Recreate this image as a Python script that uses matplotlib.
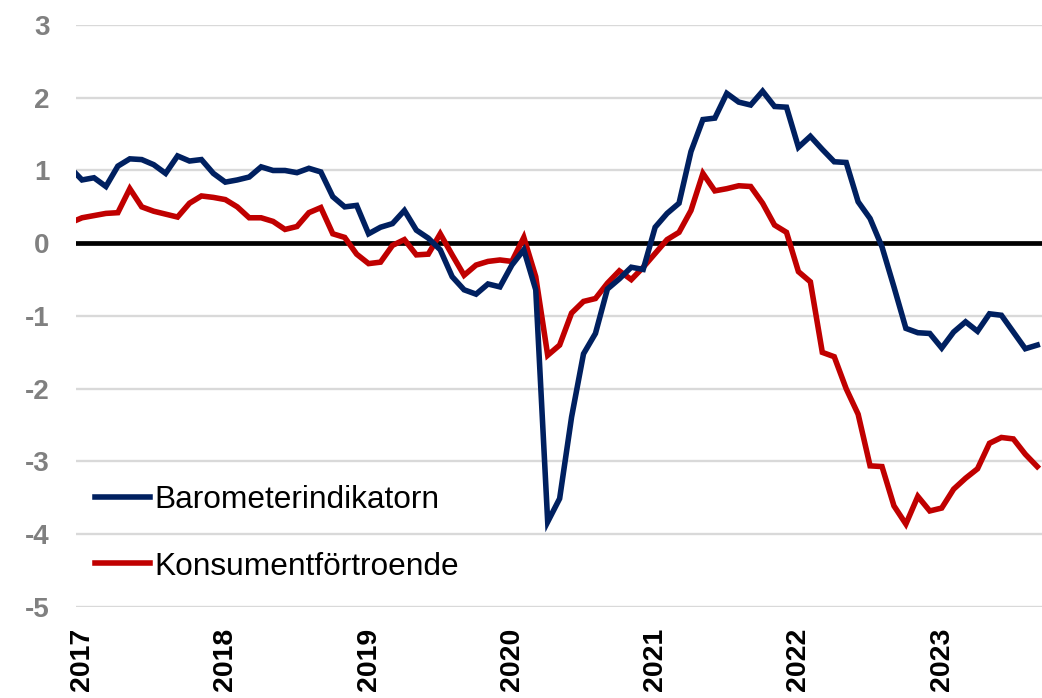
import numpy as np
import matplotlib
matplotlib.use("Agg")
import matplotlib.pyplot as plt

plt.rcParams['font.family'] = ['Liberation Sans', 'DejaVu Sans']

# monthly values, Dec 2016 .. Sep 2023 (first point is clipped at the left edge)
barometer = [1.04,
             0.87, 0.90, 0.78, 1.06, 1.16, 1.15, 1.08, 0.96, 1.20, 1.13, 1.15, 0.96,
             0.84, 0.87, 0.91, 1.05, 1.00, 1.00, 0.97, 1.03, 0.98, 0.64, 0.50, 0.52,
             0.13, 0.22, 0.27, 0.45, 0.18, 0.07, -0.09, -0.46, -0.64, -0.70, -0.56, -0.60,
             -0.30, -0.09, -0.64, -3.83, -3.51, -2.39, -1.52, -1.24, -0.63, -0.49, -0.33, -0.36,
             0.22, 0.41, 0.55, 1.26, 1.70, 1.72, 2.06, 1.94, 1.90, 2.09, 1.88, 1.87,
             1.32, 1.47, 1.29, 1.12, 1.11, 0.57, 0.34, -0.05, -0.60, -1.17, -1.23, -1.24,
             -1.44, -1.22, -1.08, -1.21, -0.97, -0.99, -1.22, -1.45, -1.40]
konsument = [0.28,
             0.35, 0.38, 0.41, 0.42, 0.75, 0.50, 0.44, 0.40, 0.36, 0.55, 0.65, 0.63,
             0.60, 0.50, 0.35, 0.35, 0.30, 0.19, 0.23, 0.42, 0.49, 0.13, 0.08, -0.15,
             -0.28, -0.26, -0.03, 0.05, -0.16, -0.15, 0.13, -0.16, -0.44, -0.30, -0.25, -0.23,
             -0.25, 0.08, -0.46, -1.54, -1.40, -0.96, -0.80, -0.76, -0.55, -0.38, -0.50, -0.33,
             -0.14, 0.05, 0.15, 0.45, 0.96, 0.72, 0.75, 0.79, 0.78, 0.55, 0.25, 0.15,
             -0.39, -0.53, -1.50, -1.56, -2.00, -2.35, -3.06, -3.07, -3.61, -3.86, -3.48, -3.68,
             -3.64, -3.38, -3.23, -3.10, -2.75, -2.67, -2.69, -2.90, -3.07]
years = ['2017', '2018', '2019', '2020', '2021', '2022', '2023']
series_names = ['Barometerindikatorn', 'Konsumentförtroende']
series_colors = ['#002060', '#C00000']

months = np.arange(len(barometer)) - 1  # 0 = Jan 2017

fig = plt.figure(figsize=(10.42, 6.98), dpi=100)
ax = fig.add_axes([0.073, 0.1304, 0.927, 0.8338])

# grid and zero line
for y in range(-5, 4):
    ax.axhline(y, color='#d9d9d9', linewidth=1.7, zorder=0)
ax.axhline(0, color='black', linewidth=3.4, zorder=1)

ax.plot(months, barometer, color=series_colors[0], linewidth=4.0,
        label=series_names[0], zorder=3, solid_joinstyle='miter')
ax.plot(months, konsument, color=series_colors[1], linewidth=4.0,
        label=series_names[1], zorder=2, solid_joinstyle='miter')

ax.set_xlim(-0.5, 80.4)
ax.set_ylim(-5, 3)

for side in ax.spines.values():
    side.set_visible(False)

ax.set_yticks(range(-5, 4))
ax.set_yticklabels([str(v) for v in range(-5, 4)], fontsize=20, fontweight='bold', color='#808080')
ax.set_xticks(np.arange(len(years)) * 12)
ax.set_xticklabels(years, rotation=90, fontsize=20.5, fontweight='bold', color='black')
ax.tick_params(axis='y', length=0, pad=19)
ax.tick_params(axis='x', length=0, pad=15)

ax.legend(loc='upper left', bbox_to_anchor=(0.0912, 0.305), bbox_transform=fig.transFigure,
          frameon=False, fontsize=22.8, handlelength=1.74, handletextpad=0.14,
          labelspacing=1.15, borderpad=0, borderaxespad=0)

fig.savefig('out.png', dpi=100)
